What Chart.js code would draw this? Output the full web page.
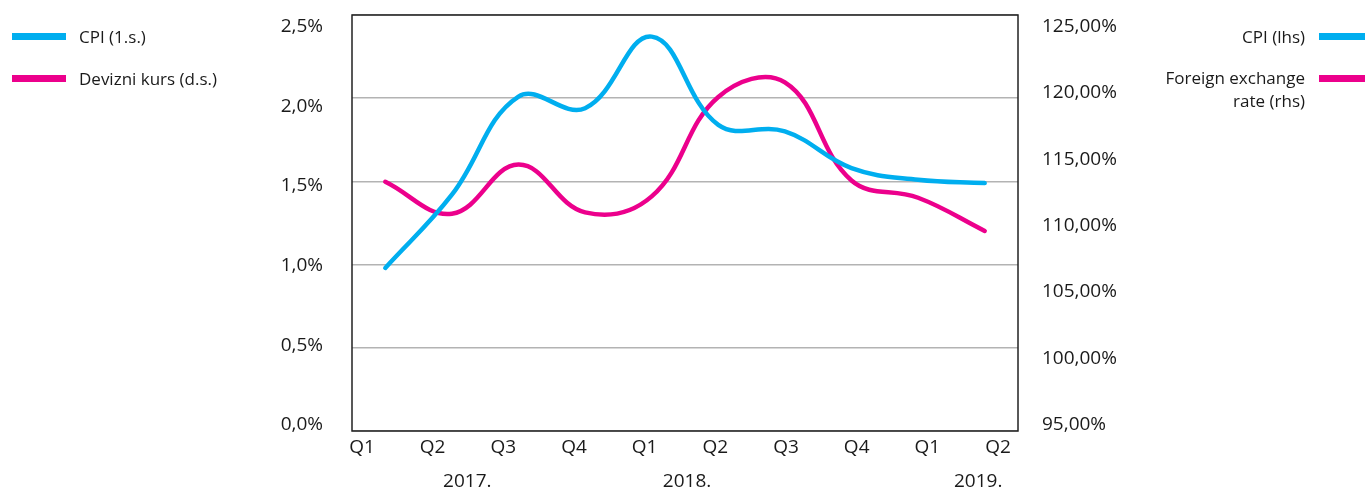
<!DOCTYPE html>
<html>
<head>
<meta charset="utf-8">
<script src="https://cdn.jsdelivr.net/npm/chart.js@4.4.1/dist/chart.umd.min.js"></script>
<style>
  html, body { margin: 0; padding: 0; background: #fff; }
  #wrap { position: relative; width: 1365px; height: 489px; font-family: "Open Sans", sans-serif; color: #1a1a1a; }
  #c { position: absolute; left: 0; top: 0; }
  .key { position: absolute; height: 7px; }
  .lbl { position: absolute; font-size: 17px; line-height: 23px; white-space: nowrap; }
</style>
</head>
<body>
<div id="wrap">
  <canvas id="c" width="1365" height="489"></canvas>
  <!-- legenda lijevo -->
  <div class="key" style="left:12px;top:33px;width:54px;background:#00aeef"></div>
  <div class="lbl" style="left:79px;top:25px">CPI (1.s.)</div>
  <div class="key" style="left:12px;top:75px;width:54px;background:#ec008c"></div>
  <div class="lbl" style="left:79px;top:67px">Devizni kurs (d.s.)</div>
  <!-- legenda desno -->
  <div class="lbl" style="right:60px;top:25px;text-align:right">CPI (lhs)</div>
  <div class="key" style="left:1319px;top:33px;width:46px;background:#00aeef"></div>
  <div class="lbl" style="right:60px;top:66px;text-align:right">Foreign exchange<br>rate (rhs)</div>
  <div class="key" style="left:1319px;top:75px;width:46px;background:#ec008c"></div>
</div>
<script>
// podaci
const quarters = ['Q1', 'Q2', 'Q3', 'Q4', 'Q1', 'Q2', 'Q3', 'Q4', 'Q1', 'Q2'];
const years = ['2017.', '2018.', '2019.'];
const cpi = [0.98, 1.42, 2.01, 1.94, 2.37, 1.84, 1.80, 1.58, 1.51, 1.49];
const fx = [113.3, 110.9, 114.6, 111.0, 112.2, 119.7, 120.8, 113.4, 112.1, 109.6];
const leftTicks = [0, 0.5, 1, 1.5, 2, 2.5];
const rightTicks = [95, 100, 105, 110, 115, 120, 125];

const yearPos = [1.49, 4.6, 8.72]; // polozaj godina u jedinicama kvartala
const axisFont = { family: 'Open Sans', size: 19 };
const textColor = '#1a1a1a';

// okvir grafikona
const framePlugin = {
  id: 'frame',
  beforeDatasetsDraw(chart) {
    const a = chart.chartArea;
    const ctx = chart.ctx;
    ctx.save();
    ctx.strokeStyle = '#222';
    ctx.lineWidth = 1.5;
    ctx.strokeRect(a.left, a.top, a.right - a.left, a.bottom - a.top);
    ctx.restore();
  }
};

// skale bez dodatnog razmaka iznad/ispod
function noPad(s) {
  s.paddingTop = 0;
  s.paddingBottom = 0;
}

const ctx = document.getElementById('c').getContext('2d');
const chart = new Chart(ctx, {
  type: 'line',
  data: {
    datasets: [{
      label: 'CPI',
      data: cpi.map((v, i) => ({ x: i, y: v })),
      borderColor: '#00aeef',
      borderWidth: 4.5,
      borderCapStyle: 'round',
      pointRadius: 0,
      tension: 0.4,
      yAxisID: 'y',
      xAxisID: 'x'
    }, {
      label: 'Devizni kurs',
      data: fx.map((v, i) => ({ x: i, y: v })),
      borderColor: '#ec008c',
      borderWidth: 4.5,
      borderCapStyle: 'round',
      pointRadius: 0,
      tension: 0.4,
      yAxisID: 'y1',
      xAxisID: 'x'
    }]
  },
  options: {
    responsive: false,
    devicePixelRatio: 1,
    animation: false,
    layout: { padding: { left: 0, right: 0, top: 15, bottom: 0 } },
    plugins: { legend: { display: false }, tooltip: { enabled: false } },
    scales: {
      x: { type: 'linear', display: false, min: -0.5, max: 9.5 },
      xq: {
        type: 'linear', position: 'bottom', weight: 0,
        min: -0.1415, max: 9.283,
        grid: { display: false, drawTicks: false }, border: { display: false },
        afterBuildTicks: s => { s.ticks = quarters.map((q, i) => ({ value: i })); },
        ticks: { autoSkip: false, maxRotation: 0, padding: 5, font: axisFont, color: textColor,
          callback: v => quarters[v] },
        afterFit: s => { s.height = 31; }
      },
      xy: {
        type: 'linear', position: 'bottom', weight: 1,
        min: -0.1415, max: 9.283,
        grid: { display: false, drawTicks: false }, border: { display: false },
        afterBuildTicks: s => { s.ticks = yearPos.map(v => ({ value: v })); },
        ticks: { autoSkip: false, maxRotation: 0, padding: 8, font: axisFont, color: textColor,
          callback: (v, i) => years[i] },
        afterFit: s => { s.height = 27; }
      },
      y: {
        position: 'left', min: 0, max: 2.5,
        ticks: { display: false, stepSize: 0.5 },
        grid: { color: '#b3b3b3', lineWidth: 1.5, drawTicks: false },
        border: { display: false },
        afterFit: s => { s.width = 0; noPad(s); }
      },
      yl: {
        position: 'left', min: -0.0377, max: 2.5734,
        grid: { display: false, drawTicks: false }, border: { display: false },
        afterBuildTicks: s => { s.ticks = leftTicks.map(v => ({ value: v })); },
        ticks: { padding: 29, font: axisFont, color: textColor,
          callback: v => v.toFixed(1).replace('.', ',') + '%' },
        afterFit: s => { s.width = 352; noPad(s); }
      },
      y1: {
        position: 'right', min: 94.51, max: 125.88,
        grid: { display: false, drawTicks: false }, border: { display: false },
        afterBuildTicks: s => { s.ticks = rightTicks.map(v => ({ value: v })); },
        ticks: { padding: 24, font: axisFont, color: textColor,
          callback: v => v.toFixed(2).replace('.', ',') + '%' },
        afterFit: s => { s.width = 347; noPad(s); }
      }
    }
  },
  plugins: [framePlugin]
});
</script>
</body>
</html>
